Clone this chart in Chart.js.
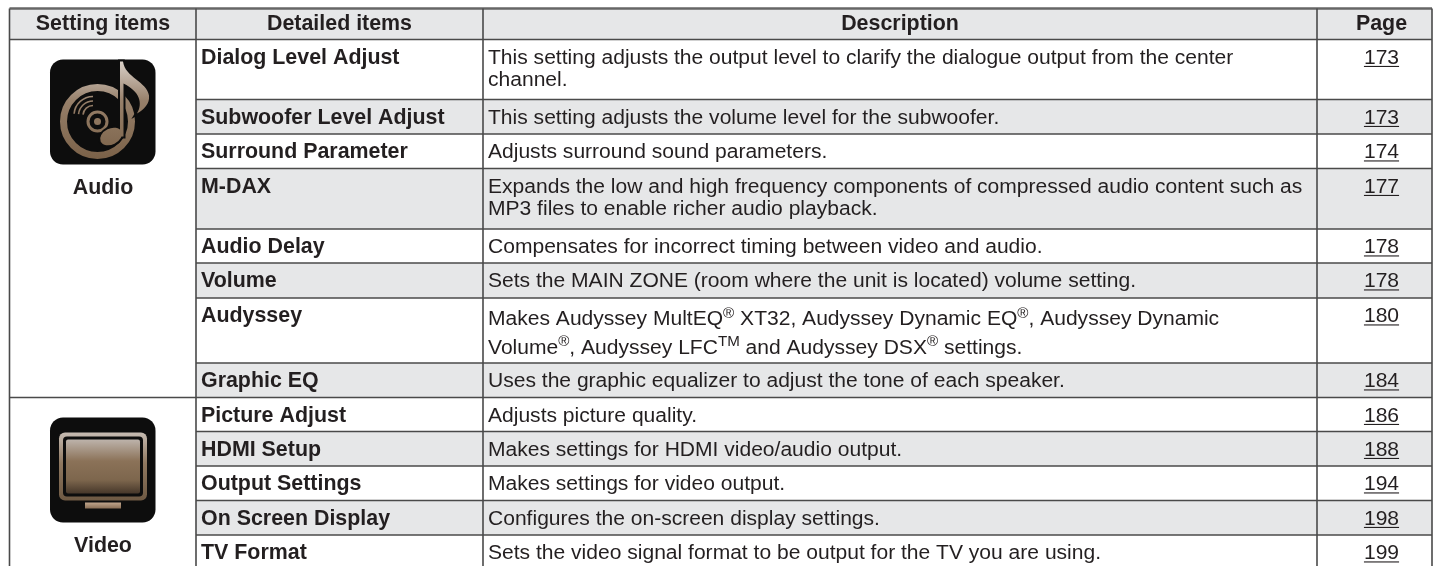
<!DOCTYPE html>
<html>
<head>
<meta charset="utf-8">
<script src="https://cdn.jsdelivr.net/npm/chart.js@4"></script>
<style>
html, body { margin: 0; padding: 0; background: #fff; overflow: hidden; }
canvas { display: block; }
</style>
</head>
<body>
<canvas id="myChart" width="1433" height="566"></canvas>
<script>
const columnHeaders = ["Setting items", "Detailed items", "Description", "Page"];
const settingItems = ["Audio", "Video"];
const settingRowCounts = [8, 5];
const detailedItems = [
    "Dialog Level Adjust", "Subwoofer Level Adjust", "Surround Parameter", "M-DAX",
    "Audio Delay", "Volume", "Audyssey", "Graphic EQ",
    "Picture Adjust", "HDMI Setup", "Output Settings", "On Screen Display", "TV Format",
];
// ^x^ marks a superscript
const descriptions = [
    ["This setting adjusts the output level to clarify the dialogue output from the center", "channel."],
    ["This setting adjusts the volume level for the subwoofer."],
    ["Adjusts surround sound parameters."],
    ["Expands the low and high frequency components of compressed audio content such as", "MP3 files to enable richer audio playback."],
    ["Compensates for incorrect timing between video and audio."],
    ["Sets the MAIN ZONE (room where the unit is located) volume setting."],
    ["Makes Audyssey MultEQ^®^ XT32, Audyssey Dynamic EQ^®^, Audyssey Dynamic", "Volume^®^, Audyssey LFC^TM^ and Audyssey DSX^®^ settings."],
    ["Uses the graphic equalizer to adjust the tone of each speaker."],
    ["Adjusts picture quality."],
    ["Makes settings for HDMI video/audio output."],
    ["Makes settings for video output."],
    ["Configures the on-screen display settings."],
    ["Sets the video signal format to be output for the TV you are using."],
];
const pages = ["173", "173", "174", "177", "178", "178", "180", "184", "186", "188", "194", "198", "199"];

// table layout, in axis units (1 unit = 1 css px)
const columnEdges = [9.5, 196, 483, 1317, 1432];
const headerCentres = [103, 339.5, 900, 1381.5];
const tableTop = 8.5;
const headerBottom = 39.5;
const rowBottoms = [99.5, 134, 168.5, 229, 263, 298, 363, 397.5, 431.5, 466, 500.5, 535, 569.5];
const FONT = '"Liberation Sans", Arial, sans-serif';
const INK = "#231f20";
const RULE = "#4a4a4a";
const BAND = "#e6e7e8";
const BOLD_SIZE = 21.4;
const BODY_SIZE = 21.05;

function rowTop(i) {
    return i === 0 ? headerBottom : rowBottoms[i - 1];
}

function rule(x1, y1, x2, y2, width, color) {
    return {
        data: [{ x: x1, y: y1 }, { x: x2, y: y2 }],
        showLine: true,
        pointRadius: 0,
        borderWidth: width || 1.6,
        borderColor: color || RULE,
        fill: false,
    };
}

function band(x1, x2, y1, y2) {
    return {
        data: [{ x: x1, y: y1 }, { x: x2, y: y1 }],
        showLine: true,
        pointRadius: 0,
        borderWidth: 0,
        fill: { value: y2 },
        backgroundColor: BAND,
    };
}

const lastEdge = columnEdges[columnEdges.length - 1];
const datasets = [];
// first dataset is painted last, so rules go in before the bands
for (const x of columnEdges) {
    datasets.push(rule(x, tableTop, x, 566));
}
datasets.push(rule(columnEdges[0], tableTop, lastEdge, tableTop, 2.4, "#666666"));
datasets.push(rule(columnEdges[0], headerBottom, lastEdge, headerBottom));
let groupEnd = 0;
const groupEnds = settingRowCounts.map(n => (groupEnd += n) - 1);
rowBottoms.forEach((y, i) => {
    const x1 = groupEnds.includes(i) ? columnEdges[0] : columnEdges[1];
    datasets.push(rule(x1, y, lastEdge, y));
});
datasets.push(band(columnEdges[0], lastEdge, tableTop, headerBottom));
rowBottoms.forEach((y, i) => {
    if (i % 2 === 1) datasets.push(band(columnEdges[1], lastEdge, rowTop(i), y));
});

function drawRich(ctx, text, x, y, size) {
    const parts = text.split("^");
    parts.forEach((part, i) => {
        const sup = i % 2 === 1;
        const s = sup ? size * 0.72 : size;
        ctx.font = s + "px " + FONT;
        ctx.fillText(part, x, sup ? y - size * 0.36 : y);
        x += ctx.measureText(part).width;
    });
}

function drawAudioIcon(ctx, x, y) {
    ctx.save();
    ctx.translate(x, y);
    ctx.fillStyle = "#0d0d0d";
    ctx.beginPath();
    ctx.roundRect(0, 0, 105.5, 105, 13);
    ctx.fill();
    const g2 = ctx.createLinearGradient(0, 2, 0, 100);
    g2.addColorStop(0, "#d9d0c8");
    g2.addColorStop(0.4, "#97806a");
    g2.addColorStop(1, "#7a6148");
    ctx.strokeStyle = g2;
    ctx.fillStyle = g2;
    // disc ring
    ctx.lineWidth = 7;
    ctx.beginPath();
    ctx.arc(47.5, 62, 34, 0, Math.PI * 2);
    ctx.stroke();
    // hub
    ctx.lineWidth = 3;
    ctx.beginPath();
    ctx.arc(47.5, 62, 9.5, 0, Math.PI * 2);
    ctx.stroke();
    ctx.beginPath();
    ctx.arc(47.5, 62, 3.5, 0, Math.PI * 2);
    ctx.fill();
    // sound waves
    ctx.lineWidth = 1.6;
    [10, 14.5, 19].forEach(r => {
        ctx.beginPath();
        ctx.arc(43, 56, r, Math.PI * 1.03, Math.PI * 1.5);
        ctx.stroke();
    });
    // note, with a dark halo so it stands off the ring
    function note() {
        ctx.beginPath();
        ctx.ellipse(61, 77, 11.5, 8, -0.45, 0, Math.PI * 2);
        ctx.moveTo(70, 77);
        ctx.lineTo(70, 2);
        ctx.lineTo(73, 2);
        ctx.bezierCurveTo(75, 18, 97, 22, 99, 36);
        ctx.bezierCurveTo(100, 44, 94, 50, 87, 54);
        ctx.bezierCurveTo(93, 44, 90, 32, 73.5, 24);
        ctx.lineTo(73.5, 77);
        ctx.closePath();
    }
    note();
    ctx.lineWidth = 4;
    ctx.strokeStyle = "#0d0d0d";
    ctx.stroke();
    note();
    ctx.fill();
    ctx.restore();
}

function drawVideoIcon(ctx, x, y) {
    ctx.save();
    ctx.translate(x, y);
    ctx.fillStyle = "#0d0d0d";
    ctx.beginPath();
    ctx.roundRect(0, 0, 105.5, 105, 13);
    ctx.fill();
    const outer = ctx.createLinearGradient(0, 15, 0, 83);
    outer.addColorStop(0, "#c6bbb2");
    outer.addColorStop(0.45, "#8f7860");
    outer.addColorStop(1, "#6e5943");
    ctx.fillStyle = outer;
    ctx.beginPath();
    ctx.roundRect(9, 15, 88, 68, 6);
    ctx.fill();
    ctx.fillStyle = "#0d0d0d";
    ctx.beginPath();
    ctx.roundRect(13, 19, 80, 60, 4);
    ctx.fill();
    const screen = ctx.createLinearGradient(0, 22, 0, 76);
    screen.addColorStop(0, "#bdb3ab");
    screen.addColorStop(0.4, "#8b7258");
    screen.addColorStop(0.75, "#7d664d");
    screen.addColorStop(1, "#46372a");
    ctx.fillStyle = screen;
    ctx.beginPath();
    ctx.roundRect(16, 22, 74, 54, 2);
    ctx.fill();
    const stand = ctx.createLinearGradient(0, 85, 0, 91);
    stand.addColorStop(0, "#c0a58c");
    stand.addColorStop(1, "#8a6f56");
    ctx.fillStyle = stand;
    ctx.fillRect(35, 85, 36, 6);
    ctx.restore();
}

const iconDrawers = [drawAudioIcon, drawVideoIcon];
const labelBaselines = [194, 552];

const tableText = {
    id: "tableText",
    afterDraw(chart) {
        const ctx = chart.ctx;
        const sx = chart.scales.x;
        const sy = chart.scales.y;
        ctx.save();
        ctx.fillStyle = INK;
        ctx.textBaseline = "alphabetic";
        // header
        ctx.textAlign = "center";
        ctx.font = "bold " + BOLD_SIZE + "px " + FONT;
        columnHeaders.forEach((h, i) => {
            ctx.fillText(h, sx.getPixelForValue(headerCentres[i]), sy.getPixelForValue(headerBottom - 9.5));
        });
        // rows
        detailedItems.forEach((item, i) => {
            const top = rowTop(i);
            const hasSup = descriptions[i].some(t => t.includes("^"));
            const base = top + (hasSup ? 27.3 : 24);
            const lineGap = hasSup ? 28.5 : 22.5;
            ctx.textAlign = "left";
            ctx.font = "bold " + BOLD_SIZE + "px " + FONT;
            ctx.fillText(item, sx.getPixelForValue(columnEdges[1] + 5), sy.getPixelForValue(top + 24));
            descriptions[i].forEach((line, k) => {
                drawRich(ctx, line, sx.getPixelForValue(columnEdges[2] + 5), sy.getPixelForValue(base + k * lineGap), BODY_SIZE);
            });
            ctx.textAlign = "center";
            ctx.font = BODY_SIZE + "px " + FONT;
            const px = sx.getPixelForValue(headerCentres[3]);
            const py = sy.getPixelForValue(top + 24);
            ctx.fillText(pages[i], px, py);
            const w = ctx.measureText(pages[i]).width;
            ctx.fillRect(px - w / 2, py + 2.4, w, 1.1);
        });
        // first column: icon and label
        let first = 0;
        settingItems.forEach((label, i) => {
            iconDrawers[i](ctx, sx.getPixelForValue(50), sy.getPixelForValue(rowTop(first) + 20));
            ctx.textAlign = "center";
            ctx.fillStyle = INK;
            ctx.font = "bold " + BOLD_SIZE + "px " + FONT;
            ctx.fillText(label, sx.getPixelForValue(headerCentres[0]), sy.getPixelForValue(labelBaselines[i]));
            first += settingRowCounts[i];
        });
        ctx.restore();
    },
};

const ctx = document.getElementById("myChart").getContext("2d");
const myChart = new Chart(ctx, {
    type: "scatter",
    data: { datasets: datasets },
    plugins: [tableText],
    options: {
        responsive: false,
        animation: false,
        layout: { padding: 0 },
        plugins: { legend: { display: false }, tooltip: { enabled: false } },
        scales: {
            x: { type: "linear", display: false, min: 0, max: 1433 },
            y: { type: "linear", display: false, min: 0, max: 566, reverse: true },
        },
    },
});
</script>
</body>
</html>
